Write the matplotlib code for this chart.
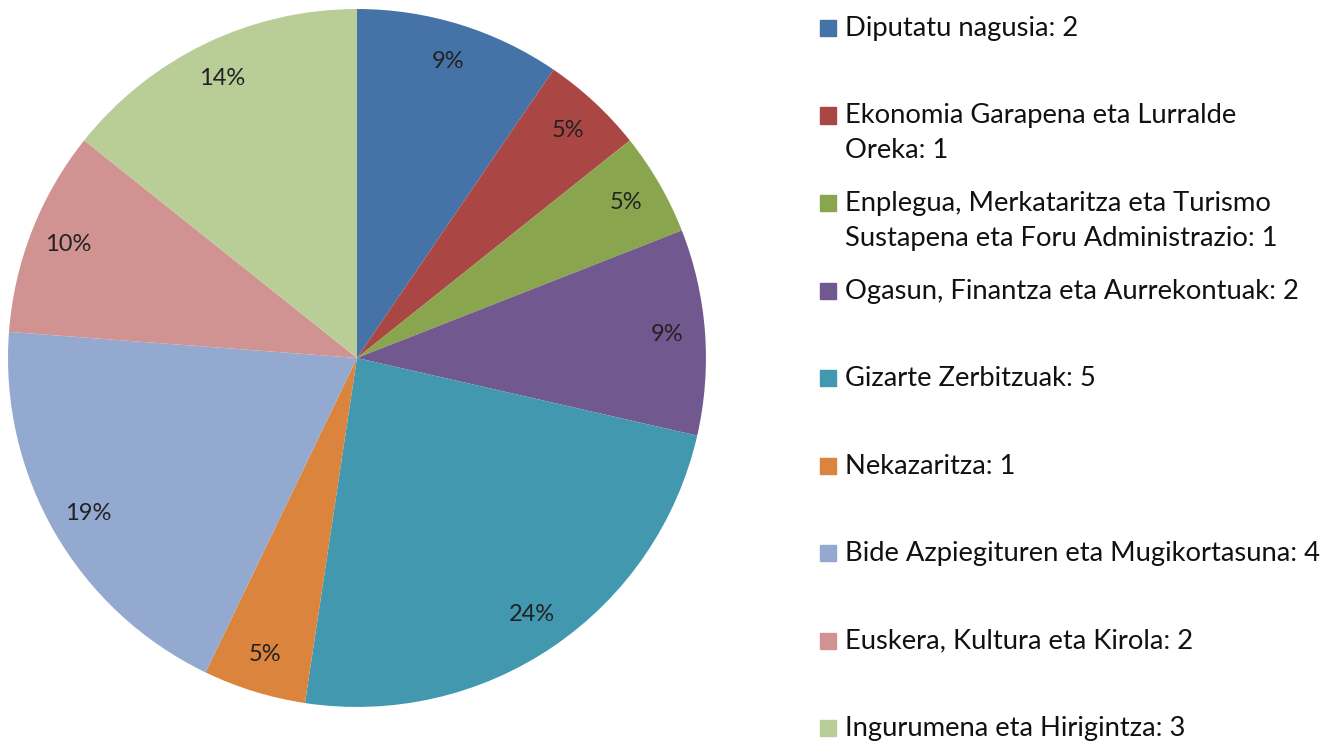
import matplotlib.pyplot as plt

plt.rcParams['font.family'] = ['Lato', 'DejaVu Sans']

names = ["Diputatu nagusia",
         "Ekonomia Garapena eta Lurralde\nOreka",
         "Enplegua, Merkataritza eta Turismo\nSustapena eta Foru Administrazio",
         "Ogasun, Finantza eta Aurrekontuak",
         "Gizarte Zerbitzuak",
         "Nekazaritza",
         "Bide Azpiegituren eta Mugikortasuna",
         "Euskera, Kultura eta Kirola",
         "Ingurumena eta Hirigintza"]
counts = [2, 1, 1, 2, 5, 1, 4, 2, 3]
pct_labels = ["9%", "5%", "5%", "9%", "24%", "5%", "19%", "10%", "14%"]
colors = ["#4572A7", "#AA4643", "#89A54E", "#71588F", "#4198AF",
          "#DB843D", "#93A9CF", "#D19392", "#B9CD96"]

fig = plt.figure(figsize=(13.35, 7.42), dpi=100)
ax = fig.add_axes([0.006, 0.0472, 0.5228, 0.9407])
wedges, texts = ax.pie(counts, labels=pct_labels, colors=colors, startangle=90,
                       counterclock=False, labeldistance=0.89,
                       wedgeprops=dict(linewidth=0),
                       textprops=dict(fontsize=17, color="#222222"))
for t in texts:
    t.set_ha("center")
    t.set_va("center")
ax.set_xlim(-1, 1)
ax.set_ylim(-1, 1)
ax.set_aspect("equal")

# legend drawn by hand, one row per slice
for i, (n, c, col) in enumerate(zip(names, counts, colors)):
    y = 1 - (28 + i * 87.5) / 742
    fig.patches.append(plt.Rectangle((820 / 1335, y - 8 / 742), 16 / 1335, 16 / 742,
                                     transform=fig.transFigure, color=col))
    fig.text(845 / 1335, y + 12 / 742, "%s: %d" % (n, c), fontsize=19.7, va="top",
             ha="left", color="#111111", linespacing=1.5)

fig.savefig("out.png", dpi=100)
